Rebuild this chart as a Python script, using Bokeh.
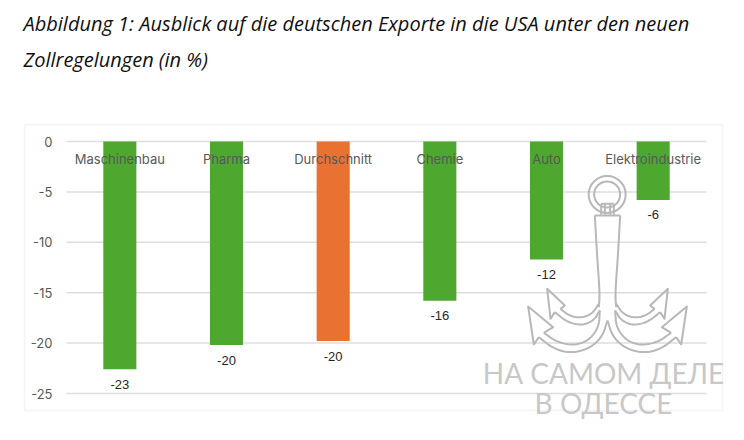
from bokeh.plotting import figure
from bokeh.models import (ColumnDataSource, Range1d, Label, BoxAnnotation, FixedTicker, LinearScale)
from bokeh.core.properties import value
from bokeh.embed import file_html
from bokeh.resources import INLINE

categories = ["Maschinenbau", "Pharma", "Durchschnitt", "Chemie", "Auto", "Elektroindustrie"]
values = [-22.6, -20.2, -19.8, -15.8, -11.7, -5.8]
value_labels = ["-23", "-20", "-20", "-16", "-12", "-6"]
bar_colors = ["#4EA72E", "#4EA72E", "#E97132", "#4EA72E", "#4EA72E", "#4EA72E"]
y_ticks = [0, -5, -10, -15, -20, -25]
title_lines = ["Abbildung 1: Ausblick auf die deutschen Exporte in die USA unter den neuen",
               "Zollregelungen (in %)"]
watermark_lines = ["НА САМОМ ДЕЛЕ", "В ОДЕССЕ"]

# Watermark anchor outline (decoration, in its own local coordinates)
anchor_curves = [
    [(403, 135), (410, 260), (418, 370), (415, 410)],
    [(415, 400), (395, 430), (360, 443), (325, 435), (300, 415)],
    [(283, 425), (320, 455), (365, 465), (400, 450), (418, 420)],
    [(441, 450), (425, 500), (385, 535), (330, 548), (280, 535), (235, 500)],
    [(250, 487), (290, 515), (340, 525), (385, 510), (415, 470), (418, 420)],
]
anchor_straight = [
    [(300, 415), (313, 405), (260, 355), (270, 445), (283, 425)],
    [(235, 500), (220, 522), (203, 408), (278, 470), (250, 487)],
    [(422, 100), (422, 133)],
    [(433, 100), (433, 133)],
]
anchor_top = [(403, 135), (479, 135)]
anchor_neck = [(422, 100), (460, 100)]
anchor_ring = (440, 72)
MIRROR = 882

W, H = 736, 432
L, R, T, B = 66, 706, 141, 393  # plot area inside the page, px
S = (R - L) / len(categories)
U = (B - T) / (max(y_ticks) - min(y_ticks))

positions = list(range(len(categories)))
left_edge, right_edge = positions[0] - 0.5, positions[-1] + 0.5

p = figure(width=W, height=H, output_backend="svg", toolbar_location=None,
           x_range=Range1d((0 - L) / S - 0.5, (W - L) / S - 0.5),
           y_range=Range1d(-(H - T) / U, T / U),
           min_border_left=0, min_border_right=0, min_border_top=0, min_border_bottom=0,
           outline_line_color=None)
p.background_fill_color = "white"
p.xgrid.visible = False
p.ygrid.visible = False

p.segment([left_edge] * len(y_ticks), y_ticks, [right_edge] * len(y_ticks), y_ticks,
          line_color="#DEDEDE", line_width=1.5)

src = ColumnDataSource(dict(pos=positions, val=values, lab=value_labels, col=bar_colors))
p.vbar(x="pos", top=0, bottom="val", width=0.31, fill_color="col", line_color=None, source=src)
p.text(x="pos", y="val", text="lab", source=src, y_offset=15, text_align="center",
       text_baseline="middle", text_font=value("Liberation Sans"), text_font_size="13px",
       text_color="#262626")

p.yaxis.fixed_location = left_edge
p.yaxis.ticker = FixedTicker(ticks=y_ticks)
p.yaxis.major_label_overrides = {t: str(t) for t in y_ticks}
p.yaxis.axis_line_color = None
p.yaxis.major_tick_line_color = None
p.yaxis.minor_tick_line_color = None
p.yaxis.major_label_standoff = 8
p.yaxis.major_label_text_font = "Inter"
p.yaxis.major_label_text_font_size = "13px"
p.yaxis.major_label_text_color = "#595959"

p.xaxis.fixed_location = 0
p.xaxis.ticker = FixedTicker(ticks=positions)
p.xaxis.major_label_overrides = dict(zip(positions, categories))
p.xaxis.axis_line_color = None
p.xaxis.major_tick_line_color = None
p.xaxis.minor_tick_line_color = None
p.xaxis.major_label_standoff = 3
p.xaxis.major_label_text_font = "Inter"
p.xaxis.major_label_text_font_size = "13px"
p.xaxis.major_label_text_color = "#595959"

# outer chart border (canvas coordinates)
p.add_layout(BoxAnnotation(left=24, right=722, top=124, bottom=410,
                           left_units="canvas", right_units="canvas",
                           top_units="canvas", bottom_units="canvas",
                           fill_alpha=0, line_color="#D9D9D9", line_width=1.5, level="underlay"))

# title
for line, ypos in zip(title_lines, (23, 59)):
    p.add_layout(Label(x=23, y=ypos, x_units="canvas", y_units="canvas", text=line,
                       text_font="Open Sans", text_font_style="italic", text_font_size="20px",
                       text_color="#111111", text_align="left", text_baseline="middle"))

# watermark in its own coordinate system
p.extra_x_ranges["wm"] = Range1d((0 - 460) * 3, (W - 460) * 3)
p.extra_y_ranges["wm"] = Range1d((H - 170) * 3, (0 - 170) * 3)
p.extra_x_scales["wm"] = LinearScale()
p.extra_y_scales["wm"] = LinearScale()


def smooth(points, rounds=3):
    for _ in range(rounds):
        out = [points[0]]
        for a, b in zip(points, points[1:]):
            out.append((0.75 * a[0] + 0.25 * b[0], 0.75 * a[1] + 0.25 * b[1]))
            out.append((0.25 * a[0] + 0.75 * b[0], 0.25 * a[1] + 0.75 * b[1]))
        out.append(points[-1])
        points = out
    return points


wm_color = "#B8B8B8"
paths = [smooth(c) for c in anchor_curves] + anchor_straight
xs, ys = [], []
for poly in paths:
    xs.append([q[0] for q in poly]); ys.append([q[1] for q in poly])
    xs.append([MIRROR - q[0] for q in poly]); ys.append([q[1] for q in poly])
for poly in (anchor_top, anchor_neck):
    xs.append([q[0] for q in poly]); ys.append([q[1] for q in poly])
p.multi_line(xs, ys, x_range_name="wm", y_range_name="wm", line_color=wm_color, line_width=2,
             line_join="round")
p.scatter([anchor_ring[0]] * 2, [anchor_ring[1]] * 2, size=[37, 26], x_range_name="wm", y_range_name="wm",
          marker="circle", fill_alpha=0, line_color=wm_color, line_width=2)

for line, cx, cy in zip(watermark_lines, (603, 603), (372, 402)):
    p.add_layout(Label(x=cx, y=cy, x_units="canvas", y_units="canvas", text=line,
                       text_font="Lato", text_font_size="28px", text_color="#C8C8C8",
                       text_align="center", text_baseline="middle"))

open("out.html", "w").write(file_html(p, INLINE))
